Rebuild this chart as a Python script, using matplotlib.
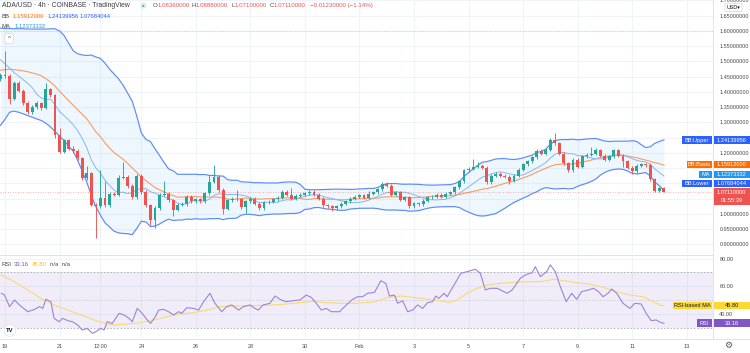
import numpy as np
import pandas as pd
import matplotlib
matplotlib.use('Agg')
import matplotlib.pyplot as plt
from matplotlib.patches import Rectangle
from matplotlib.lines import Line2D
from matplotlib.ticker import FormatStrFormatter

plt.rcParams['font.family'] = ['Liberation Sans', 'DejaVu Sans']

W, H = 750, 353

# ---------------- data: ADA/USD 4h candles (Jan 18 20:00 -> Feb 12 04:00) ----------------
closes = [1.455, 1.452, 1.378, 1.428, 1.403, 1.364, 1.333, 1.350, 1.363, 1.348,
          1.408, 1.389, 1.259, 1.203, 1.241, 1.214, 1.206, 1.183, 1.119, 1.133,
          1.030, 1.024, 1.052, 1.028, 1.066, 1.063, 1.119, 1.122, 1.092, 1.056,
          1.124, 1.072, 1.028, 0.978, 1.019, 1.063, 1.066, 1.044, 1.013, 1.030,
          1.032, 1.056, 1.041, 1.048, 1.041, 1.067, 1.105, 1.122, 1.078, 1.017,
          1.044, 1.050, 1.047, 1.022, 1.041, 1.050, 1.033, 1.019, 1.037, 1.039,
          1.047, 1.052, 1.072, 1.063, 1.050, 1.059, 1.063, 1.067, 1.072, 1.063,
          1.050, 1.028, 1.025, 1.019, 1.025, 1.033, 1.041, 1.050, 1.056, 1.061,
          1.052, 1.065, 1.070, 1.081, 1.098, 1.092, 1.063, 1.070, 1.046, 1.054,
          1.026, 1.034, 1.032, 1.043, 1.054, 1.056, 1.063, 1.056, 1.065, 1.070,
          1.087, 1.107, 1.142, 1.147, 1.155, 1.158, 1.151, 1.103, 1.125, 1.131,
          1.125, 1.122, 1.109, 1.125, 1.144, 1.162, 1.173, 1.186, 1.206, 1.197,
          1.210, 1.243, 1.232, 1.197, 1.166, 1.142, 1.177, 1.155, 1.188, 1.194,
          1.197, 1.208, 1.191, 1.177, 1.188, 1.208, 1.191, 1.173, 1.151, 1.140,
          1.158, 1.162, 1.160, 1.114, 1.076, 1.0836, 1.0711]
opens = [1.441] + closes[:-1]
highs = [1.462, 1.533, 1.458, 1.434, 1.436, 1.408, 1.369, 1.356, 1.369, 1.367,
         1.428, 1.413, 1.394, 1.283, 1.246, 1.246, 1.222, 1.211, 1.187, 1.156,
         1.138, 1.036, 1.144, 1.108, 1.072, 1.072, 1.126, 1.170, 1.128, 1.097,
         1.130, 1.130, 1.077, 1.033, 1.025, 1.069, 1.108, 1.071, 1.049, 1.035,
         1.037, 1.062, 1.061, 1.053, 1.053, 1.072, 1.128, 1.161, 1.127, 1.083,
         1.050, 1.056, 1.078, 1.052, 1.046, 1.055, 1.055, 1.038, 1.042, 1.045,
         1.053, 1.058, 1.078, 1.077, 1.083, 1.064, 1.068, 1.072, 1.078, 1.077,
         1.068, 1.055, 1.033, 1.030, 1.030, 1.038, 1.046, 1.055, 1.062, 1.066,
         1.066, 1.076, 1.075, 1.086, 1.105, 1.103, 1.097, 1.075, 1.075, 1.059,
         1.059, 1.039, 1.039, 1.048, 1.059, 1.061, 1.068, 1.068, 1.070, 1.075,
         1.092, 1.112, 1.147, 1.155, 1.180, 1.169, 1.163, 1.156, 1.130, 1.136,
         1.136, 1.130, 1.127, 1.130, 1.149, 1.167, 1.178, 1.191, 1.211, 1.211,
         1.215, 1.248, 1.265, 1.237, 1.202, 1.171, 1.182, 1.182, 1.193, 1.199,
         1.219, 1.217, 1.213, 1.196, 1.193, 1.212, 1.213, 1.196, 1.178, 1.156,
         1.163, 1.167, 1.166, 1.165, 1.119, 1.089, 1.0888]
lows = [1.436, 1.446, 1.359, 1.372, 1.398, 1.358, 1.326, 1.327, 1.345, 1.342,
        1.344, 1.383, 1.250, 1.198, 1.198, 1.208, 1.200, 1.176, 1.112, 1.112,
        1.025, 0.922, 1.018, 1.022, 1.022, 1.058, 1.058, 1.114, 1.086, 1.050,
        1.050, 1.066, 1.022, 0.963, 0.952, 1.014, 1.058, 1.038, 0.992, 1.008,
        1.025, 1.027, 1.036, 1.036, 1.036, 1.036, 1.062, 1.100, 1.072, 1.000,
        1.012, 1.039, 1.042, 1.016, 1.003, 1.036, 1.028, 1.012, 1.014, 1.032,
        1.034, 1.042, 1.047, 1.058, 1.045, 1.045, 1.054, 1.058, 1.062, 1.058,
        1.045, 1.022, 1.019, 1.008, 1.014, 1.020, 1.028, 1.036, 1.045, 1.051,
        1.047, 1.047, 1.060, 1.065, 1.076, 1.087, 1.058, 1.058, 1.041, 1.041,
        1.020, 1.020, 1.027, 1.027, 1.038, 1.049, 1.051, 1.051, 1.051, 1.060,
        1.065, 1.082, 1.102, 1.137, 1.142, 1.150, 1.146, 1.098, 1.098, 1.120,
        1.120, 1.116, 1.098, 1.104, 1.120, 1.139, 1.157, 1.168, 1.181, 1.192,
        1.192, 1.205, 1.227, 1.192, 1.160, 1.136, 1.136, 1.150, 1.150, 1.183,
        1.189, 1.192, 1.186, 1.172, 1.172, 1.183, 1.186, 1.153, 1.146, 1.131,
        1.135, 1.153, 1.155, 1.109, 1.071, 1.071, 1.0710]

# indicator values for the first candles (before 20 bars of history)
upper_head = [1.609, 1.608, 1.608, 1.607, 1.607, 1.607, 1.606, 1.606, 1.606, 1.606,
              1.606, 1.607, 1.607, 1.600, 1.585, 1.560, 1.535, 1.525, 1.521]
basis_head = [1.471, 1.473, 1.474, 1.473, 1.471, 1.469, 1.466, 1.462, 1.458, 1.453,
              1.443, 1.432, 1.419, 1.402, 1.387, 1.371, 1.356, 1.341, 1.326]
lower_head = [1.290, 1.310, 1.333, 1.337, 1.333, 1.328, 1.322, 1.317, 1.311, 1.306,
              1.297, 1.285, 1.270, 1.255, 1.240, 1.222, 1.205, 1.175, 1.140]
ma_head = [1.505, 1.492, 1.478, 1.463, 1.452, 1.440, 1.428, 1.414]

# last indicator values shown in the legend / axis tags
bb_upper_last, bb_basis_last, bb_lower_last = 1.24139956, 1.15912000, 1.07684044
ma_last = 1.12373332
rsi_last, rsi_ma_last = 33.16, 45.80

# RSI panel (x in candle index)
rsi_x = [0.2, 0.9, 2.0, 3.1, 4.2, 6.0, 7.5, 8.6, 9.3, 10.0,
         11.1, 11.8, 12.9, 13.7, 14.8, 15.9, 17.0, 18.0, 19.1, 20.2,
         21.0, 22.1, 22.8, 23.5, 24.6, 26.1, 27.2, 28.3, 29.0, 30.1,
         31.2, 32.3, 33.0, 34.1, 34.8, 35.9, 37.0, 38.1, 39.2, 39.9,
         41.0, 42.5, 43.6, 44.7, 46.1, 47.2, 48.7, 49.8, 50.9, 52.4,
         53.5, 54.9, 56.0, 56.7, 57.8, 59.3, 60.4, 61.8, 62.9, 64.4,
         65.9, 67.3, 68.4, 69.5, 70.6, 71.7, 72.8, 74.6, 76.1, 77.5,
         78.6, 79.7, 80.8, 82.3, 83.7, 84.8, 85.6, 86.7, 87.4, 88.5,
         89.6, 90.7, 91.8, 92.9, 94.0, 95.1, 95.8, 96.5, 97.6, 98.3,
         99.8, 101.3, 102.7, 104.5, 105.6, 106.7, 107.8, 109.3, 111.5, 112.6,
         114.4, 115.5, 117.0, 117.7, 118.8, 120.2, 121.0, 122.1, 123.2, 124.5,
         125.7, 126.8, 127.9, 129.4, 130.5, 131.6, 132.6, 133.7, 134.5, 135.6,
         137.0, 138.5, 139.6, 141.0, 142.1, 143.2, 144.3, 145.4, 146]
rsi_v = [54.9, 53.6, 45.2, 50.0, 46.4, 41.5, 43.2, 45.2, 43.9, 50.5,
         48.8, 36.7, 34.2, 36.7, 35.0, 34.2, 31.8, 28.2, 29.4, 25.8,
         27.0, 29.4, 28.2, 34.2, 33.0, 40.3, 39.1, 36.7, 34.2, 43.9,
         40.3, 35.5, 33.0, 37.9, 42.7, 43.2, 41.5, 39.1, 41.5, 40.3,
         44.4, 43.9, 42.7, 48.8, 54.9, 47.6, 41.5, 45.2, 46.4, 42.7,
         45.2, 46.4, 43.9, 42.7, 46.4, 47.6, 52.9, 50.0, 48.8, 49.5,
         50.0, 53.6, 51.9, 47.6, 42.7, 43.9, 41.5, 41.5, 46.4, 50.5,
         52.4, 52.4, 54.9, 55.5, 64.0, 62.1, 52.9, 53.6, 47.6, 49.5,
         41.5, 42.7, 46.4, 43.9, 48.1, 48.8, 52.9, 51.2, 54.9, 52.4,
         60.9, 69.4, 70.6, 72.3, 69.4, 57.3, 58.5, 58.5, 54.9, 57.3,
         65.8, 68.2, 69.9, 74.2, 67.0, 70.6, 75.5, 70.6, 59.7, 48.8,
         54.9, 50.5, 56.1, 57.3, 58.5, 56.1, 52.4, 54.9, 58.0, 54.9,
         47.6, 43.9, 47.6, 47.1, 40.3, 35.0, 35.5, 33.5, 33.16]
rma_x = [0.2, 3.1, 6.0, 8.9, 11.8, 14.8, 17.7, 20.6, 23.5, 25.0,
         27.9, 30.8, 33.7, 36.7, 39.6, 42.5, 45.4, 48.3, 51.3, 55.6,
         60.0, 62.9, 65.9, 68.8, 71.7, 74.6, 77.5, 82.3, 85.2, 88.1,
         91.0, 94.0, 96.9, 98.7, 100.5, 102.7, 104.9, 107.1, 110.0, 112.9,
         115.9, 118.8, 120.2, 121.7, 123.9, 126.8, 129.7, 132.6, 135.6, 138.5,
         141.4, 143.6, 145.1, 146]
rma_v = [68.2, 63.3, 57.3, 51.2, 46.4, 42.7, 39.1, 35.5, 32.6, 31.8,
         32.6, 33.5, 35.5, 37.9, 39.8, 40.8, 42.7, 45.2, 45.6, 45.9,
         46.4, 47.1, 48.1, 49.0, 48.1, 47.6, 47.6, 48.5, 51.9, 52.9,
         51.9, 50.5, 49.5, 48.1, 50.0, 54.9, 58.5, 60.9, 62.1, 62.9,
         63.3, 63.3, 64.1, 65.0, 64.1, 62.6, 61.6, 59.2, 56.1, 53.6,
         52.4, 48.8, 46.4, 45.8]

date_idx = [1, 13, 22, 31, 43, 55, 67, 79, 91, 103, 115, 127, 139, 151]
date_labels = ['19', '21', '12:00', '24', '26', '28', '30', 'Feb', '3', '5', '7', '9', '11', '13']
price_grid = [0.90, 0.95, 1.00, 1.05, 1.10, 1.15, 1.20, 1.25, 1.30, 1.35, 1.40,
              1.45, 1.50, 1.55, 1.60, 1.65, 1.70]
price_labels = [0.90, 0.95, 1.00, 1.20, 1.30, 1.35, 1.40, 1.45, 1.50, 1.55, 1.60, 1.65, 1.70]
rsi_ticks = [40, 60, 80]

# ---------------- styling ----------------
GREEN, RED = '#26a69a', '#ef5350'
BLUE, ORANGE, LBLUE = '#2962ff', '#ff6d00', '#2196f3'
PURPLE, YELLOW = '#7e57c2', '#fdd835'
TXT = '#4a4a4a'
GRID = '#f0f3fa'
FS = 4.0
XMIN, XMAX = -0.1, 156.8
YMIN, YMAX = 0.868, 1.7014
RMIN, RMAX = 22.4, 82.7

fig = plt.figure(figsize=(W / 100, H / 100), dpi=100)
fig.patch.set_facecolor('white')


def T(x, y, s, color=TXT, size=FS, ha='left', **kw):
    return fig.text(x / W, 1 - y / H, s, color=color, fontsize=size, ha=ha, va='center', **kw)


def price_px(p):
    return (YMAX - p) / (YMAX - YMIN) * 254


def rsi_px(r):
    return 255 + (RMAX - r) / (RMAX - RMIN) * 83


# ---------------- main pane ----------------
ax = fig.add_axes([0, 1 - 254 / H, 713 / W, 254 / H])
idx = np.arange(len(closes))
s = pd.Series(closes)
basis = s.rolling(20).mean().to_numpy()
sd = s.rolling(20).std(ddof=0).to_numpy()
upper = basis + 2 * sd
lower = basis - 2 * sd
upper[:19] = upper_head
basis[:19] = basis_head
lower[:19] = lower_head
ma = s.rolling(9).mean().to_numpy()
ma[:8] = ma_head

ax.fill_between(idx, lower, upper, color=LBLUE, alpha=0.07, lw=0, zorder=1)
ax.plot(idx, upper, color='#5b8cf5', lw=0.85, zorder=2)
ax.plot(idx, lower, color='#5b8cf5', lw=0.85, zorder=2)
ax.plot(idx, basis, color='#f7a06b', lw=0.85, zorder=2)
ax.plot(idx, ma, color='#86b6f4', lw=0.7, zorder=2)

o = np.array(opens)
c = np.array(closes)
cols = np.where(c >= o, GREEN, RED)
ax.vlines(idx, lows, highs, colors=cols, lw=0.65, zorder=3)
ax.bar(idx, np.maximum(np.abs(c - o), 0.0012), 0.64, bottom=np.minimum(o, c),
       color=cols, lw=0, zorder=4)

ax.axhline(closes[-1], color=RED, lw=0.6, ls=(0, (1, 2)), alpha=0.6, zorder=2)
ax.axhline(1.60, color='#c9ccd4', lw=0.5, ls=(0, (2, 2)), zorder=1)

ax.set_xlim(XMIN, XMAX)
ax.set_ylim(YMIN, YMAX)
ax.set_xticks(date_idx)
ax.set_yticks(price_grid, minor=True)
ax.set_yticks(price_labels)
ax.yaxis.tick_right()
ax.yaxis.set_major_formatter(FormatStrFormatter('%.8f'))
ax.tick_params(axis='y', which='both', length=0, pad=4.5, labelsize=FS, labelcolor=TXT)
ax.tick_params(axis='x', length=0, labelbottom=False)
ax.grid(True, which='both', color=GRID, lw=0.8)
ax.set_axisbelow(True)
for sp in ax.spines.values():
    sp.set_visible(False)

# ---------------- RSI pane ----------------
axr = fig.add_axes([0, 1 - 338 / H, 713 / W, 83 / H])
axr.axhspan(30, 70, color=PURPLE, alpha=0.1, lw=0, zorder=1)
axr.axhline(70, color='#a9acb5', lw=0.6, ls=(0, (2, 2)), zorder=2)
axr.axhline(30, color='#a9acb5', lw=0.6, ls=(0, (2, 2)), zorder=2)
axr.axhline(50, color='#c3c5cc', lw=0.5, ls=(0, (2, 2)), zorder=2)
axr.plot(rma_x, rma_v, color='#f8d977', lw=0.8, zorder=3)
axr.plot(rsi_x, rsi_v, color='#9c84d4', lw=0.8, zorder=4)
axr.set_xlim(XMIN, XMAX)
axr.set_ylim(RMIN, RMAX)
axr.set_xticks(date_idx, date_labels)
axr.set_yticks(rsi_ticks)
axr.yaxis.tick_right()
axr.yaxis.set_major_formatter(FormatStrFormatter('%.2f'))
axr.tick_params(axis='y', length=0, pad=4.5, labelsize=FS, labelcolor=TXT)
axr.tick_params(axis='x', length=0, pad=4.5, labelsize=FS, labelcolor=TXT)
axr.grid(True, color=GRID, lw=0.8)
axr.set_axisbelow(True)
for sp in axr.spines.values():
    sp.set_visible(False)

# pane separators
for (xs, ys) in [([0, 713], [254.5, 254.5]), ([0, 750], [338.5, 338.5]), ([713, 713], [0, 338.5])]:
    fig.add_artist(Line2D([v / W for v in xs], [1 - v / H for v in ys],
                          transform=fig.transFigure, color='#e0e3eb', lw=0.7))


# ---------------- right-axis tags ----------------
def tag(y, value, color, name=None, x0=None, tc='white', extra=None):
    h = 7.4
    hh = h if extra is None else 16.5
    top = y - h / 2
    fig.add_artist(Rectangle((713.5 / W, 1 - (top + hh) / H), 36.5 / W, hh / H,
                             transform=fig.transFigure, fc=color, ec='none', zorder=5))
    T(731.5, y, value, tc, size=4.1, ha='center', zorder=6)
    if extra:
        T(731.5, y + 8, extra, tc, size=4.1, ha='center', zorder=6)
    if name:
        fig.add_artist(Rectangle((x0 / W, 1 - (top + h) / H), (712 - x0) / W, h / H,
                                 transform=fig.transFigure, fc=color, ec='none', zorder=5))
        T((x0 + 712) / 2, y, name, tc, size=4.1, ha='center', zorder=6)


tag(price_px(bb_upper_last), '%.8f' % bb_upper_last, BLUE, 'BB:Upper', 682)
tag(price_px(bb_basis_last) - 0.5, '%.8f' % bb_basis_last, ORANGE, 'BB:Basis', 687)
tag(price_px(ma_last) - 1.6, '%.8f' % ma_last, LBLUE, 'MA', 699)
tag(price_px(bb_lower_last) - 7.0, '%.8f' % bb_lower_last, BLUE, 'BB:Lower', 682)
tag(price_px(closes[-1]), '%.8f' % closes[-1], RED, extra='01:55:39')
tag(rsi_px(rsi_ma_last), '%.2f' % rsi_ma_last, YELLOW, 'RSI-based MA', 673, tc='#131722')
tag(rsi_px(rsi_last), '%.2f' % rsi_last, PURPLE, 'RSI', 697)

# ---------------- header legends ----------------
T(1.5, 5.5, 'ADA/USD · 4h · COINBASE · TradingView', '#3c3c3c', size=4.9)
T(142, 5.5, '●', GREEN, size=3.2,
  bbox=dict(boxstyle='circle,pad=0.25', fc='#d7efec', ec='none'))
ohlc = [(153, 'O', opens[-1]), (192, 'H', highs[-1]),
        (231, 'L', lows[-1]), (270, 'C', closes[-1])]
for x, k, v in ohlc:
    T(x, 5.5, k, TXT, size=4.4)
    T(x + (4.6 if k == 'O' else 4.0), 5.5, '%.8f' % v, RED, size=4.4)
T(310, 5.5, '\u22120.01230000 (\u22121.14%)', RED, size=4.4)

T(1.5, 16, 'BB', TXT, size=4.3)
T(13, 16, '%.8f' % bb_basis_last, ORANGE, size=4.2)
T(47.5, 16, '%.8f' % bb_upper_last, BLUE, size=4.2)
T(80, 16, '%.8f' % bb_lower_last, BLUE, size=4.2)
T(1.5, 27, 'MA', TXT, size=4.3)
T(15, 27, '%.8f' % ma_last, LBLUE, size=4.2)
T(9, 38.5, '^', TXT, size=4.5, ha='center',
  bbox=dict(boxstyle='round,pad=0.45', fc='white', ec='#d1d4dc', lw=0.5))

T(1.5, 264.5, 'RSI', TXT, size=4.3)
T(13.5, 264.5, '%.2f' % rsi_last, PURPLE, size=4.3)
T(32, 264.5, '%.2f' % rsi_ma_last, '#f2c500', size=4.3)
T(49.5, 264.5, 'n/a  n/a', TXT, size=4.3)

T(733.5, 7.5, 'USD\u25be', '#131722', size=3.9, ha='center', zorder=6,
  bbox=dict(boxstyle='round,pad=0.3', fc='white', ec='#d1d4dc', lw=0.5))
T(728, 345.5, '\u2699', '#555555', size=6.5, ha='center')
T(10, 330.5, 'TV', '#131722', size=4.2, ha='center', weight='bold',
  bbox=dict(boxstyle='circle,pad=0.35', fc='white', ec='#e0e3eb', lw=0.5))

fig.savefig('out.png', dpi=100)
